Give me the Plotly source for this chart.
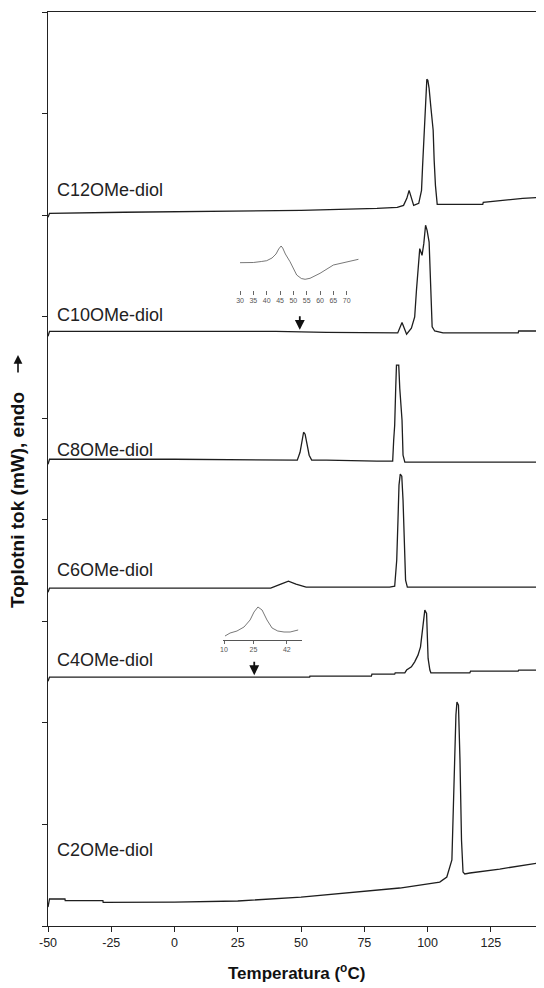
import plotly.graph_objects as go

# ---------------- data (temperature in degC, stacked heat-flow in arbitrary offset units) -------------
c12_T = [-50, -49.4, -20, 20, 50, 80, 88, 90.5, 91.8, 92.7, 93.5, 94.5, 96.5, 97.6, 98.0, 98.6, 99.2, 99.7,
         100.1, 100.6, 101.3, 102.2, 102.6, 103.1, 103.8, 110, 121.8, 122, 130.5, 137.6, 146]
c12_v = [6.978, 7.018, 7.028, 7.037, 7.047, 7.067, 7.077, 7.096, 7.165, 7.244, 7.185, 7.096, 7.116, 7.244,
         7.470, 7.835, 8.159, 8.337, 8.327, 8.248, 8.061, 7.835, 7.539, 7.293, 7.106, 7.106, 7.106, 7.126,
         7.146, 7.165, 7.175]

c10_T = [-50, -49.4, -20, 20, 40, 60, 80, 88.2, 89.9, 91.7, 93.6, 94.9, 95.6, 96.2, 96.9, 97.8, 98.5, 99.2,
         99.8, 100.6, 101.1, 101.5, 101.8, 102.8, 106.1, 135.8, 136, 146]
c10_v = [5.807, 5.856, 5.856, 5.856, 5.856, 5.846, 5.846, 5.840, 5.942, 5.827, 5.886, 5.997, 6.260, 6.489,
         6.670, 6.604, 6.719, 6.900, 6.850, 6.735, 6.391, 6.096, 5.899, 5.859, 5.840, 5.840, 5.859, 5.859]

c8_T = [-50, -49.4, 0, 40, 48.5, 49.6, 50.3, 51.0, 51.6, 52.4, 53.2, 54.2, 60, 80, 86.2, 86.6, 87.0, 87.4,
        87.7, 88.6, 89.0, 89.9, 90.3, 91, 110, 146]
c8_v = [4.547, 4.596, 4.596, 4.587, 4.587, 4.665, 4.783, 4.862, 4.843, 4.744, 4.636, 4.587, 4.587, 4.577,
        4.577, 4.783, 4.931, 5.295, 5.522, 5.522, 5.295, 4.980, 4.636, 4.567, 4.567, 4.567]

c6_T = [-50, -49.4, 0, 38, 42, 45, 48, 52, 70, 85, 87.0, 87.8, 88.3, 88.7, 89.2, 89.8, 90.3, 90.8, 91.3,
        92, 110, 146]
c6_v = [3.287, 3.327, 3.327, 3.327, 3.366, 3.396, 3.366, 3.337, 3.337, 3.337, 3.346, 3.602, 3.996, 4.341,
        4.449, 4.429, 4.193, 3.750, 3.406, 3.337, 3.337, 3.337]

c4_T = [-50, -49.4, 20, 53.4, 53.5, 77.8, 78, 87, 87.2, 91, 91.7, 93.6, 94.9, 96.2, 97.2, 97.8, 98.4, 98.9,
        99.6, 99.8, 100.2, 100.9, 101.3, 116.7, 117, 135.8, 136, 146]
c4_v = [2.411, 2.451, 2.451, 2.451, 2.461, 2.461, 2.480, 2.480, 2.493, 2.493, 2.520, 2.552, 2.601, 2.667,
        2.749, 2.881, 3.012, 3.110, 3.078, 2.884, 2.635, 2.520, 2.493, 2.493, 2.510, 2.510, 2.520, 2.520]

c2_T = [-50, -49.4, -43.3, -43.2, -28.3, -28.2, 0, 25, 50, 70, 89, 104.8, 107.6, 109.6, 110.4, 111.2,
        111.6, 112.2, 112.8, 113.4, 114.0, 114.7, 116.7, 128.5, 146]
c2_v = [0.187, 0.266, 0.266, 0.249, 0.249, 0.233, 0.236, 0.246, 0.285, 0.330, 0.374, 0.433, 0.482, 0.650,
        1.437, 2.077, 2.205, 2.175, 1.634, 0.846, 0.531, 0.512, 0.522, 0.561, 0.630]

# insets (glass-transition detail)
ins10_T = [30, 35, 38, 40, 42, 43.5, 44.5, 45.4, 46, 47, 48.75, 51.25, 53, 54.4, 56.25, 60, 65, 68.75, 74.4]
ins10_v = [0.496, 0.500, 0.522, 0.540, 0.600, 0.689, 0.800, 0.867, 0.822, 0.689, 0.518, 0.222, 0.144,
           0.127, 0.149, 0.260, 0.444, 0.496, 0.571]
ins10_ticks = [30, 35, 40, 45, 50, 55, 60, 65, 70]

ins4_T = [10.5, 13.1, 16.6, 20.2, 23.3, 25.3, 27.3, 29.4, 31.9, 34.5, 37.4, 40.6, 43.7, 47.8]
ins4_v = [0.111, 0.194, 0.250, 0.361, 0.556, 0.778, 0.917, 0.833, 0.556, 0.333, 0.250, 0.222, 0.222, 0.278]
ins4_ticks = [10, 25, 42]

labels = ["C12OMe-diol", "C10OMe-diol", "C8OMe-diol", "C6OMe-diol", "C4OMe-diol", "C2OMe-diol"]
label_y = [7.244, 6.014, 4.69, 3.504, 2.618, 0.748]
x_ticks = [-50, -25, 0, 25, 50, 75, 100, 125]
x_ticktext = ["-50", "-25", "0", "25", "50", "75", "100", "125"]
arrow_T = [49.5, 31.5]          # glass-transition markers
arrow_v = [5.87, 2.47]

# ---------------- figure ----------------
FONT = "Liberation Sans, Arial, sans-serif"
LINE = dict(color="#1e1e1e", width=1.3)
fig = go.Figure()
for T, v in [(c12_T, c12_v), (c10_T, c10_v), (c8_T, c8_v), (c6_T, c6_v), (c4_T, c4_v), (c2_T, c2_v)]:
    fig.add_trace(go.Scatter(x=T, y=v, mode="lines", line=LINE, showlegend=False, hoverinfo="skip"))

fig.add_trace(go.Scatter(x=ins10_T, y=ins10_v, mode="lines", line=dict(color="#555", width=0.8),
                         xaxis="x2", yaxis="y2", showlegend=False, hoverinfo="skip"))
fig.add_trace(go.Scatter(x=ins4_T, y=ins4_v, mode="lines", line=dict(color="#555", width=0.8),
                         xaxis="x3", yaxis="y3", showlegend=False, hoverinfo="skip"))

# the page body adds an 8px offset, so the figure is 8px smaller than the window
OFF = 8
W, H = 536, 980
L, R, T_, B = 40, 0, 4, 62
pw, ph = W - L - R, H - T_ - B


def px_x(p):
    return (p - OFF - L) / pw


def px_y(p):
    return (H - B - (p - OFF)) / ph


for lab, y in zip(labels, label_y):
    fig.add_annotation(x=-47.4, y=y, xref="x", yref="y", text=lab, showarrow=False, xanchor="left",
                       yanchor="middle", font=dict(family=FONT, size=18, color="#222"))

for aT, av in zip(arrow_T, arrow_v):
    fig.add_annotation(x=aT, y=av, xref="x", yref="y", text="", showarrow=True, ax=0, ay=-15,
                       arrowhead=2, arrowsize=1.1, arrowwidth=1.8, arrowcolor="#111")

fig.add_annotation(x=px_x(18), y=px_y(500), xref="paper", yref="paper", textangle=-90,
                   xanchor="center", yanchor="middle",
                   text="<b>Toplotni tok (mW), endo</b>", showarrow=False,
                   font=dict(family=FONT, size=19, color="#111"))
fig.add_annotation(x=px_x(18), y=px_y(355), xref="paper", yref="paper", text="", showarrow=True,
                   ax=0, ay=19, arrowhead=2, arrowsize=1.1, arrowwidth=1.6, arrowcolor="#111")
fig.add_annotation(x=px_x(296), y=px_y(972), xref="paper", yref="paper", xanchor="center", yanchor="middle",
                   text="<b>Temperatura (<sup>o</sup>C)</b>", showarrow=False,
                   font=dict(family=FONT, size=17, color="#111"))

fig.update_layout(
    width=W, height=H, margin=dict(l=L, r=R, t=T_, b=B, autoexpand=False),
    paper_bgcolor="white", plot_bgcolor="white",
    xaxis=dict(range=[-50, 146], tickvals=x_ticks, ticktext=x_ticktext, ticks="outside", ticklen=5,
               tickcolor="#222", showline=True, linecolor="#222", linewidth=1.2, mirror=True, showgrid=False,
               zeroline=False, automargin=False, tickfont=dict(family=FONT, size=12.5, color="#222")),
    yaxis=dict(range=[0, 9], tickvals=list(range(10)), ticks="outside", ticklen=5, tickcolor="#222",
               showticklabels=False, showline=True, linecolor="#222", linewidth=1.2, showgrid=False,
               zeroline=False, automargin=False),
    xaxis2=dict(domain=[px_x(234.7), px_x(362.7)], range=[28, 76], anchor="y2", tickvals=ins10_ticks,
                ticks="outside", ticklen=4, tickcolor="#666", showline=False, showgrid=False, zeroline=False,
                automargin=False, tickfont=dict(family=FONT, size=7, color="#555")),
    yaxis2=dict(domain=[px_y(290), px_y(240)], range=[-0.111, 1], anchor="x2", visible=False),
    xaxis3=dict(domain=[px_x(223.3), px_x(301.7)], range=[9.64, 49.6], anchor="y3", tickvals=ins4_ticks,
                ticks="outside", ticklen=3, tickcolor="#666", showline=True, linecolor="#555", linewidth=0.8,
                showgrid=False, zeroline=False, automargin=False, tickfont=dict(family=FONT, size=7, color="#555")),
    yaxis3=dict(domain=[px_y(640), px_y(604)], range=[0, 1], anchor="x3", visible=False),
)

fig.write_html("out.html")
